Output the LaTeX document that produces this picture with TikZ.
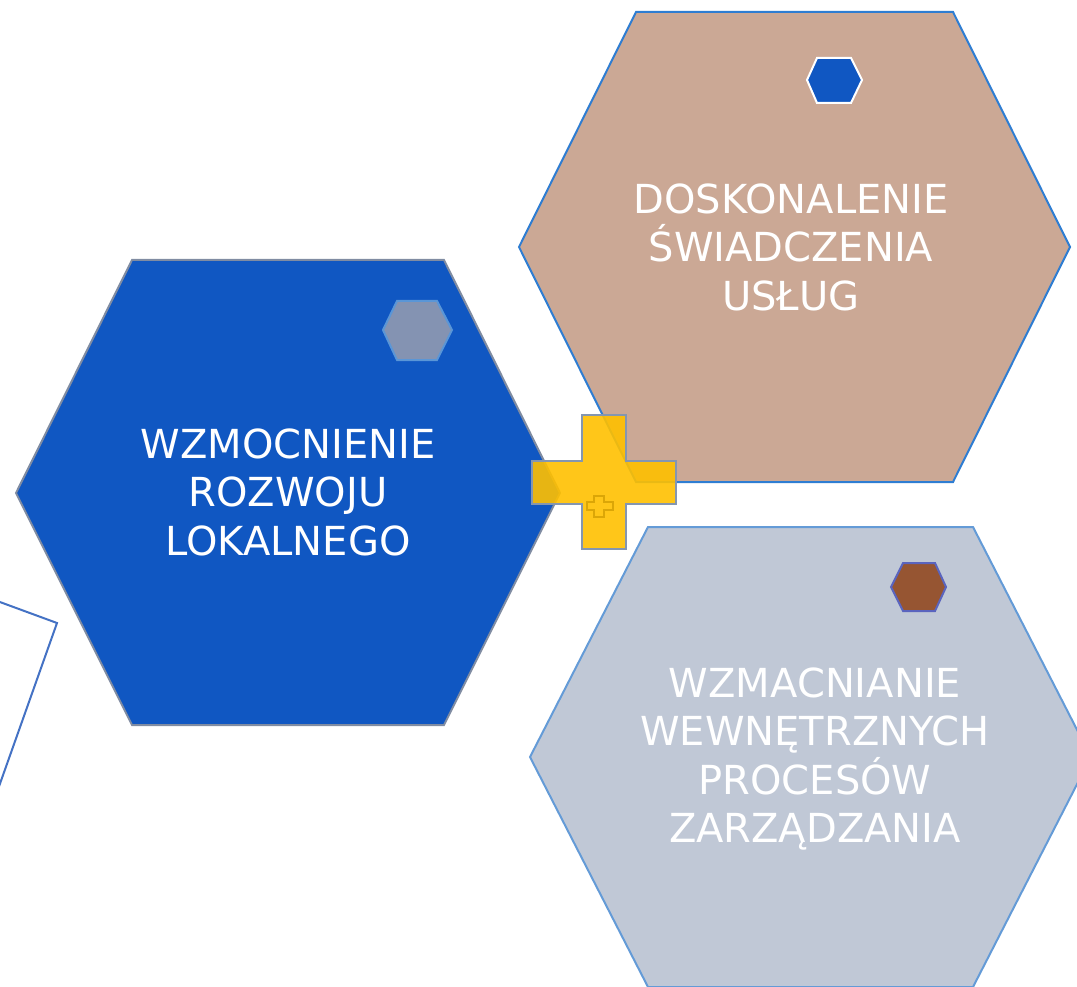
\documentclass[tikz,border=0pt]{standalone}
\usepackage{fontspec}
\setmainfont{DejaVu Sans}
\definecolor{hexblue}{RGB}{16,87,194}
\definecolor{hexbluerim}{RGB}{128,140,162}
\definecolor{hextan}{RGB}{203,168,149}
\definecolor{hextanrim}{RGB}{46,125,210}
\definecolor{hexgray}{RGB}{192,200,214}
\definecolor{hexgrayrim}{RGB}{100,155,215}
\definecolor{dotgray}{RGB}{132,147,178}
\definecolor{dotgrayrim}{RGB}{90,150,215}
\definecolor{dotbrown}{RGB}{150,85,50}
\definecolor{dotbrownrim}{RGB}{90,100,190}
\definecolor{plusyellow}{RGB}{255,192,0}
\definecolor{plusrim}{RGB}{132,150,176}
\definecolor{leftrim}{RGB}{68,114,196}
\begin{document}
\begin{tikzpicture}[x=1pt,y=-1pt,
    hextext/.style={text=white,align=center,inner sep=0pt,
      font=\fontsize{40}{48.5}\selectfont}]
  \useasboundingbox (0,0) rectangle (1077,987);
  \clip (0,0) rectangle (1077,987);
  % shape cut off at the left edge
  \draw[leftrim,line width=2] (-60,580) -- (57,623) -- (-20,840);
  % big hexagons
  \draw[fill=hexblue,draw=hexbluerim,line width=2] (16,493) -- (132,260) -- (444,260) -- (560,493) -- (444,725) -- (132,725) -- cycle;
  \draw[fill=hextan,draw=hextanrim,line width=2] (519,247) -- (636,12) -- (953,12) -- (1070,247) -- (953,482) -- (636,482) -- cycle;
  \draw[fill=hexgray,draw=hexgrayrim,line width=2] (530,757) -- (648,527) -- (973,527) -- (1091,757) -- (973,987) -- (648,987) -- cycle;
  % small hexagons
  \draw[fill=dotgray,draw=dotgrayrim,line width=2] (383,330) -- (397,301) -- (437,301) -- (452,330) -- (437,360) -- (397,360) -- cycle;
  \draw[fill=hexblue,draw=white,line width=2] (807,80) -- (817,58) -- (851,58) -- (862,80) -- (851,103) -- (817,103) -- cycle;
  \draw[fill=dotbrown,draw=dotbrownrim,line width=2] (891,587) -- (903,563) -- (935,563) -- (946,587) -- (935,611) -- (903,611) -- cycle;
  % texts
  \node[hextext] (local) at (288,492) {WZMOCNIENIE\\ROZWOJU\\LOKALNEGO};
  \node[hextext] (services) at (791,247) {DOSKONALENIE\\ŚWIADCZENIA\\USŁUG};
  \node[hextext] (processes) at (815,759) {WZMACNIANIE\\WEWNĘTRZNYCH\\PROCESÓW\\ZARZĄDZANIA};
  % plus
  \draw[fill=plusyellow,fill opacity=0.9,draw=plusrim,line width=2] (582,415) -- (626,415) -- (626,461) -- (676,461) -- (676,504) -- (626,504) -- (626,549) -- (582,549) -- (582,504) -- (532,504) -- (532,461) -- (582,461) -- cycle;
  \draw[draw=black!20!plusyellow,draw opacity=0.7,line width=1.5] (594,496) -- (604,496) -- (604,502) -- (613,502) -- (613,510) -- (604,510) -- (604,517) -- (594,517) -- (594,510) -- (587,510) -- (587,502) -- (594,502) -- cycle;
\end{tikzpicture}
\end{document}
